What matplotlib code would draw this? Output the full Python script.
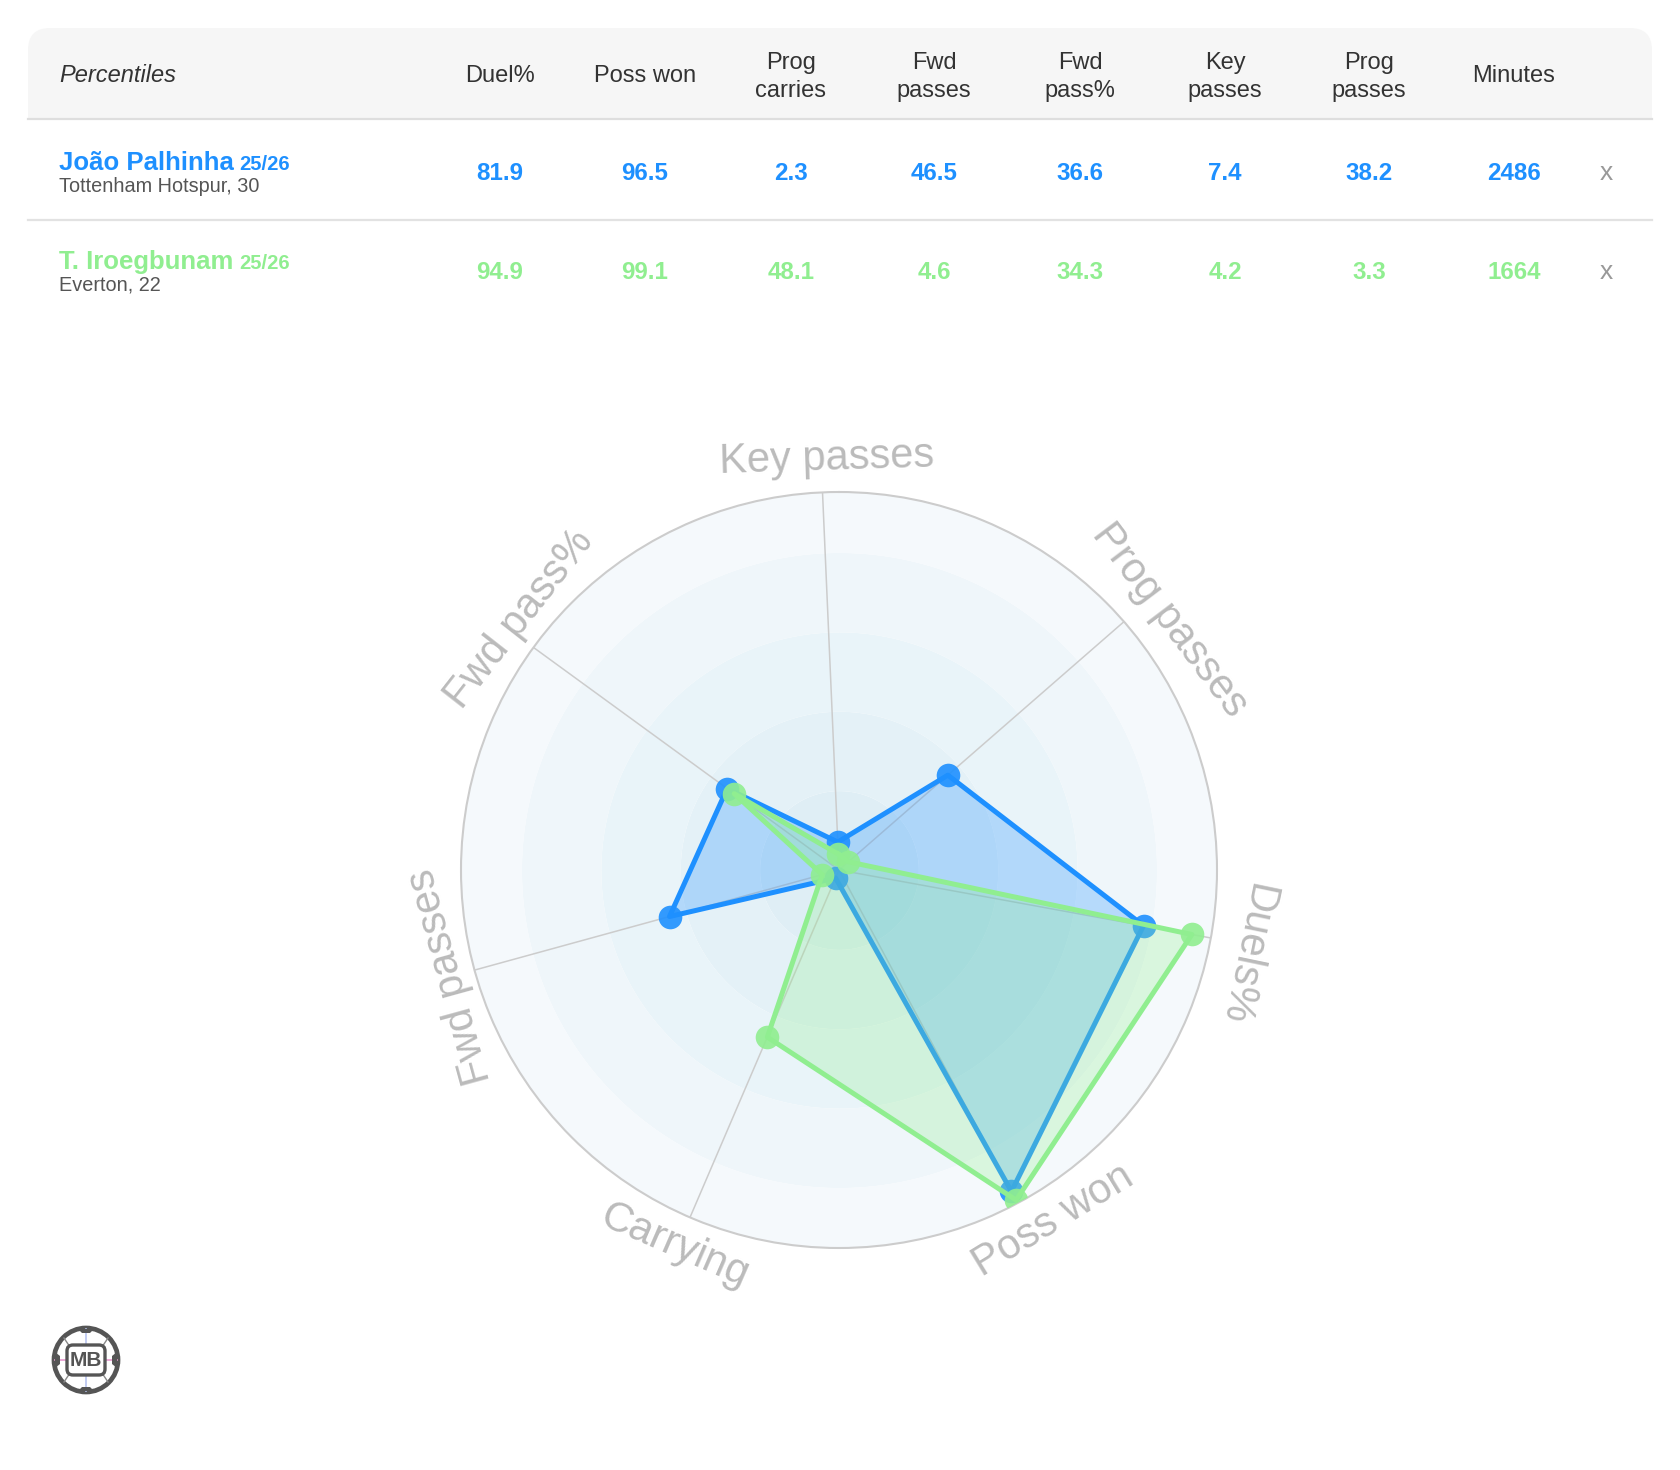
import numpy as np
import matplotlib.pyplot as plt
from matplotlib.patches import FancyBboxPatch, Rectangle, Circle, Polygon

plt.rcParams['font.family'] = ['Liberation Sans', 'DejaVu Sans']

BLUE = '#1e90ff'
GREEN = '#90ee90'

# table data
columns = ['Duel%', 'Poss won', 'Prog\ncarries', 'Fwd\npasses', 'Fwd\npass%',
           'Key\npasses', 'Prog\npasses', 'Minutes']
players = ['João Palhinha', 'T. Iroegbunam']
seasons = ['25/26', '25/26']
clubs = ['Tottenham Hotspur, 30', 'Everton, 22']
palhinha_row = [81.9, 96.5, 2.3, 46.5, 36.6, 7.4, 38.2, 2486]
iroegbunam_row = [94.9, 99.1, 48.1, 4.6, 34.3, 4.2, 3.3, 1664]

# radar data (percentiles)
radar_labels = ['Key passes', 'Prog passes', 'Duels%', 'Poss won',
                'Carrying', 'Fwd passes', 'Fwd pass%']
palhinha = [7.4, 38.2, 81.9, 96.5, 2.3, 46.5, 36.6]
iroegbunam = [4.2, 3.3, 94.9, 99.1, 48.1, 4.6, 34.3]

fig = plt.figure(figsize=(16.8, 14.7), dpi=100)

# --- table, drawn in pixel coords ---
tab = fig.add_axes([0, 0, 1, 1])
tab.set_xlim(0, 1680)
tab.set_ylim(1470, 0)
tab.axis('off')

tab.add_patch(FancyBboxPatch((28, 28), 1624, 90, boxstyle='round,pad=0,rounding_size=22',
                             fc='#f6f6f6', ec='none'))
tab.add_patch(Rectangle((28, 70), 1624, 48, fc='#f6f6f6', ec='none'))
tab.plot([28, 1652], [118.5, 118.5], color='#dedede', lw=1.6)
tab.plot([28, 1652], [219.5, 219.5], color='#e2e2e2', lw=1.6)

col_x = [500, 645, 791, 934, 1080, 1225, 1369, 1514]
tab.text(59, 82, 'Percentiles', style='italic', fontsize=17, color='#333333', va='baseline')
for x, name in zip(col_x, columns):
    lines = name.split('\n')
    if len(lines) == 1:
        tab.text(x, 82, name, fontsize=17, color='#333333', ha='center', va='baseline')
    else:
        for k, ln in enumerate(lines):
            tab.text(x, 69 + 28 * k, ln, fontsize=17, color='#333333', ha='center', va='baseline')

rows = [palhinha_row, iroegbunam_row]
colors = [BLUE, GREEN]
row_base = [169.5, 268.5]
for i in range(2):
    y = row_base[i]
    t = tab.text(59, y, players[i], fontsize=18.5, fontweight='bold', color=colors[i], va='baseline')
    tab.annotate(seasons[i], xy=(1, 0), xycoords=t, xytext=(4, 0.6), textcoords='offset points',
                 fontsize=14.5, fontweight='bold', color=colors[i], va='bottom', ha='left')
    tab.text(59, y + 22, clubs[i], fontsize=14.3, color='#555555', va='baseline')
    for x, v in zip(col_x, rows[i]):
        tab.text(x, y + 10, f'{v:g}', fontsize=17.4, fontweight='bold', color=colors[i],
                 ha='center', va='baseline')
    tab.text(1606, y + 10, 'x', fontsize=19, color='#999999', ha='center', va='baseline')

# logo
lx, ly = 86, 1360
tab.add_patch(Circle((lx, ly), 32, fc='white', ec='#555555', lw=3.4))
tab.plot([lx, lx], [ly - 31, ly + 31], color='#b8c4f0', lw=1.2, zorder=1)
tab.plot([lx - 31, lx + 31], [ly, ly], color='#e89ad0', lw=1.2, zorder=1)
for dx, dy in [(-1, -1), (1, -1), (-1, 1), (1, 1)]:
    tab.plot([lx + dx * 14, lx + dx * 22], [ly + dy * 10, ly + dy * 22], color='#888888', lw=1)
for sx in (-1, 1):
    tab.add_patch(Polygon([(lx + sx * 31, ly - 8), (lx + sx * 26, ly - 4), (lx + sx * 26, ly + 4),
                           (lx + sx * 31, ly + 8)], closed=True, fc='#555555', ec='none'))
for sy in (-1, 1):
    tab.add_patch(Polygon([(lx - 8, ly + sy * 31), (lx - 4, ly + sy * 27), (lx + 4, ly + sy * 27),
                           (lx + 8, ly + sy * 31)], closed=True, fc='#555555', ec='none'))
tab.add_patch(FancyBboxPatch((lx - 19, ly - 15), 38, 30, boxstyle='round,pad=0,rounding_size=6',
                             fc='white', ec='#555555', lw=2.4, zorder=3))
tab.text(lx, ly + 1, 'MB', fontsize=15, fontweight='bold', color='#555555', ha='center', va='center', zorder=4)

# --- radar ---
ax = fig.add_axes([461 / 1680, (1470 - 1248) / 1470, 756 / 1680, 756 / 1470], projection='polar')
ax.set_theta_zero_location('N')
ax.set_theta_direction(-1)
ax.set_ylim(0, 100)
ax.set_xticks([])
ax.set_yticks([])
ax.grid(False)
ax.set_facecolor('none')
ax.spines['polar'].set_color('#cccccc')
ax.spines['polar'].set_linewidth(1.5)

ring_edges = [0, 21, 42, 63, 84, 100]
ring_colors = ['#dfeef5', '#e4f1f7', '#e9f4f9', '#eff6fa', '#f5f9fc']
tt = np.linspace(0, 2 * np.pi, 361)
for r0, r1, c in zip(ring_edges[:-1], ring_edges[1:], ring_colors):
    ax.fill_between(tt, r0, r1, color=c, lw=0, zorder=0)

n = len(radar_labels)
deg = np.array([-2.5 + i * 360 / n for i in range(n)])
theta = np.deg2rad(deg)
for th in theta:
    ax.plot([th, th], [0, 100], color='#cccccc', lw=1.1, zorder=1)

for k, (vals, col) in enumerate([(palhinha, BLUE), (iroegbunam, GREEN)]):
    th = np.append(theta, theta[0])
    v = vals + vals[:1]
    ax.fill(th, v, color=col, alpha=0.27, lw=0, zorder=2 + k * 3)
    ax.plot(th, v, color=col, lw=3.6, zorder=3 + k * 3)
    ax.plot(theta, vals, 'o', color=col, ms=17, mew=0, alpha=0.9, zorder=4 + k * 3)

# label placement tweaks (degrees) to follow the reference layout
label_shift = [0.8, 4.0, 1.4, -3.2, 0.3, 0.0, 2.0]
label_r = [108.8, 109.5, 109.8, 108.8, 108.5, 106.5, 107.5]
for d, s, r, lab in zip(deg, label_shift, label_r, radar_labels):
    dd = (d + s) % 360
    rot = 180 - dd if 120 < dd < 240 else -dd
    ax.text(np.deg2rad(dd), r, lab, rotation=rot, rotation_mode='anchor',
            ha='center', va='center', fontsize=30, color='#bbbbbb', clip_on=False)

fig.savefig('out.png', dpi=100, facecolor='white')
